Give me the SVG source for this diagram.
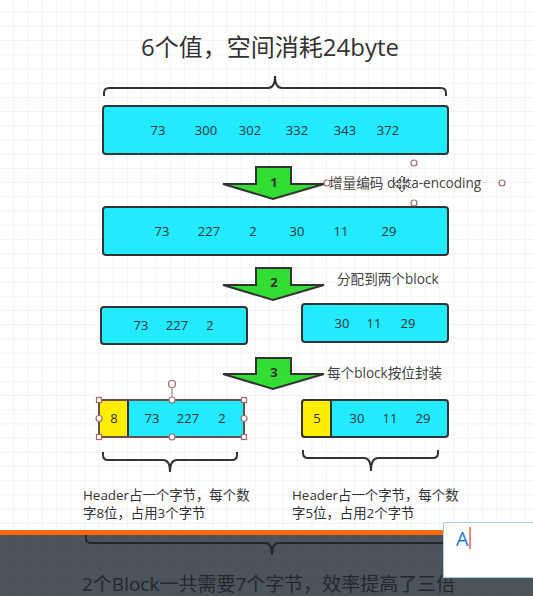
<svg xmlns="http://www.w3.org/2000/svg" width="533" height="596" viewBox="0 0 533 596">
  <style>
    .t { font-family: "Open Sans", "Noto Sans CJK SC", sans-serif; fill: #333; }
    .num { font-size: 13px; text-anchor: middle; }
    .box { fill: #22EAFF; stroke: #333; stroke-width: 2; }
    .hdr { fill: #FFEE00; stroke: #333; stroke-width: 2; }
    .brace { fill: none; stroke: #333; stroke-width: 2; }
    .arrow { fill: #33DD33; stroke: #333; stroke-width: 2; stroke-linejoin: miter; }
    .alabel { font-size: 13px; font-weight: bold; text-anchor: middle; }
    .lbl { font-size: 13.6px; fill: #444; }
    .note { font-size: 13.4px; fill: #333; }
    .handle { fill: #fff; stroke: #A56B6B; stroke-width: 1.2; }
  </style>
  <defs>
    <pattern id="grid" patternUnits="userSpaceOnUse" x="13.3" y="11.7" width="14.2" height="14.2">
      <path d="M0,0 H14.2 M0,0 V14.2" stroke="#E6E6E6" stroke-width="1" fill="none"/>
    </pattern>
    <pattern id="gridDark" patternUnits="userSpaceOnUse" x="13.3" y="11.7" width="14.2" height="14.2">
      <path d="M0,0 H14.2 M0,0 V14.2" stroke="#444C54" stroke-width="1" fill="none"/>
    </pattern>
  </defs>

  <rect x="0" y="0" width="533" height="596" fill="#fff"/>
  <rect x="0" y="0" width="533" height="596" fill="url(#grid)"/>

  <g id="title">
    <text class="t" x="270" y="56" font-size="24" text-anchor="middle">6个值，空间消耗24byte</text>
    <path class="brace" d="M104,96 V93 Q104,88 109,88 H268 Q275,88 275,76 Q275,88 282,88 H441 Q446,88 446,93 V96"/>
  </g>

  <g id="row1">
    <rect class="box" x="103" y="106" width="345" height="48" rx="3"/>
    <text class="t num" y="135"><tspan x="158">73</tspan><tspan x="206">300</tspan><tspan x="250">302</tspan><tspan x="297">332</tspan><tspan x="345">343</tspan><tspan x="388">372</tspan></text>
  </g>

  <g id="row2">
    <rect class="box" x="103" y="207" width="345" height="48" rx="3"/>
    <text class="t num" y="236"><tspan x="162">73</tspan><tspan x="209">227</tspan><tspan x="253">2</tspan><tspan x="297">30</tspan><tspan x="341">11</tspan><tspan x="389">29</tspan></text>
  </g>

  <g id="block-a">
    <rect class="box" x="101" y="307" width="146" height="37" rx="3"/>
    <text class="t num" y="330"><tspan x="141">73</tspan><tspan x="177">227</tspan><tspan x="210">2</tspan></text>
  </g>

  <g id="block-b">
    <rect class="box" x="302" y="304" width="146" height="38" rx="3"/>
    <text class="t num" y="328"><tspan x="342">30</tspan><tspan x="374">11</tspan><tspan x="408">29</tspan></text>
  </g>

  <g id="packed-a">
    <rect class="box" x="99" y="400" width="145" height="37" rx="3"/>
    <path class="hdr" d="M128,400 H102 Q99,400 99,403 V434 Q99,437 102,437 H128 Z"/>
    <text class="t num" y="423"><tspan x="114">8</tspan><tspan x="152">73</tspan><tspan x="188">227</tspan><tspan x="222">2</tspan></text>
    <g id="selection">
      <rect x="99" y="400" width="145" height="37" fill="none" stroke="#A56B6B" stroke-width="1"/>
      <line x1="172" y1="387" x2="172" y2="400" stroke="#A56B6B" stroke-width="1"/>
      <circle class="handle" cx="172" cy="384" r="3.5"/>
      <circle class="handle" cx="172" cy="400" r="3"/>
      <circle class="handle" cx="172" cy="437" r="3"/>
      <circle class="handle" cx="99" cy="418.5" r="3"/>
      <circle class="handle" cx="244" cy="418.5" r="3"/>
      <rect class="handle" x="96.5" y="397.5" width="5" height="5"/>
      <rect class="handle" x="241.5" y="397.5" width="5" height="5"/>
      <rect class="handle" x="96.5" y="434.5" width="5" height="5"/>
      <rect class="handle" x="241.5" y="434.5" width="5" height="5"/>
    </g>
  </g>

  <g id="packed-b">
    <rect class="box" x="302" y="400" width="146" height="37" rx="3"/>
    <path class="hdr" d="M331,400 H305 Q302,400 302,403 V434 Q302,437 305,437 H331 Z"/>
    <text class="t num" y="423"><tspan x="317">5</tspan><tspan x="357">30</tspan><tspan x="390">11</tspan><tspan x="423">29</tspan></text>
  </g>

  <g id="note-a">
    <path class="brace" d="M103,452 V455 Q103,460 108,460 H163 Q170,460 170,472 Q170,460 177,460 H232 Q237,460 237,455 V452"/>
    <text class="t note"><tspan x="83" y="500">Header占一个字节，每个数</tspan><tspan x="83" y="518">字8位，占用3个字节</tspan></text>
  </g>

  <g id="note-b">
    <path class="brace" d="M303,450 V453 Q303,458 308,458 H364 Q371,458 371,471 Q371,458 378,458 H433 Q438,458 438,453 V450"/>
    <text class="t note"><tspan x="292" y="500">Header占一个字节，每个数</tspan><tspan x="292" y="518">字5位，占用2个字节</tspan></text>
  </g>

  <g id="connectors">
    <g id="step1">
      <path class="arrow" d="M256,167 H291 V184 H324 L273,199 L223,184 H256 Z"/>
      <text class="t alabel" x="274" y="187">1</text>
    </g>
    <g id="step2">
      <path class="arrow" d="M256,268 H291 V285 H324 L273,300 L223,285 H256 Z"/>
      <text class="t alabel" x="274" y="287">2</text>
    </g>
    <g id="step3">
      <path class="arrow" d="M256,358 H291 V374 H324 L273,389 L223,374 H256 Z"/>
      <text class="t alabel" x="274" y="377">3</text>
    </g>
  </g>

  <g id="label1">
    <text class="t lbl" x="329" y="188">增量编码 delta-encoding</text>
    <circle class="handle" cx="327" cy="183" r="3"/>
    <circle class="handle" cx="502" cy="183" r="3"/>
    <circle class="handle" cx="414" cy="163" r="3"/>
    <circle class="handle" cx="414" cy="203" r="3"/>
    <g id="move-cursor" transform="translate(402,184)">
      <path d="M0,-8 L3,-4.5 H1.2 V-1.2 H4.5 V-3 L8,0 L4.5,3 V1.2 H1.2 V4.5 H3 L0,8 L-3,4.5 H-1.2 V1.2 H-4.5 V3 L-8,0 L-4.5,-3 V-1.2 H-1.2 V-4.5 H-3 Z" fill="#fff" stroke="#333" stroke-width="0.9"/>
    </g>
  </g>
  <g id="label2">
    <text class="t lbl" x="337" y="284">分配到两个block</text>
  </g>
  <g id="label3">
    <text class="t lbl" x="327" y="378">每个block按位封装</text>
  </g>

  <g id="summary">
    <rect x="0" y="533" width="533" height="63" fill="#4C545C"/>
    <rect x="0" y="533" width="533" height="63" fill="url(#gridDark)"/>
    <path d="M86,533 V538 Q86,543 91,543 H265 Q272,543 272,555 Q272,543 279,543 H454 Q459,543 459,538 V533" fill="none" stroke="#22272C" stroke-width="2"/>
    <text x="82" y="591" font-family="Open Sans, Noto Sans CJK SC, sans-serif" font-size="19" fill="#23282D">2个Block一共需要7个字节，效率提高了三倍</text>
    <rect x="0" y="530" width="533" height="5" fill="#FF6A00"/>
  </g>

  <g id="ime">
    <rect x="443.5" y="522.5" width="95" height="55" fill="#fff" stroke="#A9CBEA" stroke-width="1"/>
    <text x="456" y="546" font-family="Open Sans, sans-serif" font-size="20" fill="#1F7BE0">A</text>
    <line x1="470" y1="527" x2="470" y2="549" stroke="#E53A2A" stroke-width="1.2"/>
  </g>
</svg>
